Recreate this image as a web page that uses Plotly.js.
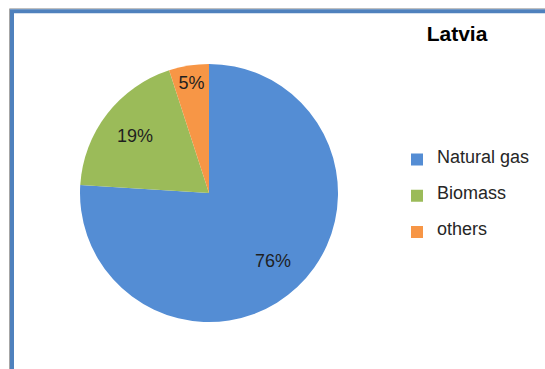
<!DOCTYPE html>
<html>
<head>
<meta charset="utf-8">
<script src="https://cdn.plot.ly/plotly-3.0.1.min.js"></script>
<style>html,body{margin:0;padding:0;background:#fff;}#chart{width:545px;height:369px;}</style>
</head>
<body>
<div id="chart"></div>
<script>
var categories = ['Natural gas', 'Biomass', 'others'];
var shares = [76, 19, 5];
var sliceColors = ['#548DD4', '#9BBB59', '#F79646'];
var chartTitle = 'Latvia';

var W = 545, H = 369;
var cx = 209, cy = 193, r = 129;
var FONT = 'Liberation Sans, Arial, sans-serif';
var pieDomain = { x: [(cx - r) / W, (cx + r) / W], y: [(H - cy - r) / H, (H - cy + r) / H] };

// legend labels padded with blank lines to widen vertical spacing between entries
var legendLabels = categories.map(function (c) {
  return ' <br><span style="font-size:18px">' + c + '</span><br> ';
});

// filled slices (no text)
var basePie = {
  type: 'pie',
  labels: legendLabels,
  values: shares,
  sort: false,
  direction: 'clockwise',
  rotation: 0,
  marker: { colors: sliceColors, line: { width: 0 } },
  textinfo: 'none',
  hoverinfo: 'label+percent',
  domain: pieDomain
};

// transparent ring on top, used only to place the percentage labels further out
var labelPie = {
  type: 'pie',
  labels: legendLabels,
  values: shares,
  sort: false,
  direction: 'clockwise',
  rotation: 0,
  hole: 0.45,
  showlegend: false,
  marker: { colors: ['rgba(0,0,0,0)', 'rgba(0,0,0,0)', 'rgba(0,0,0,0)'], line: { width: 0 } },
  textinfo: 'percent',
  texttemplate: '%{percent:.0%}',
  textposition: 'inside',
  insidetextorientation: 'horizontal',
  textfont: { family: FONT, size: 18, color: '#1f1f1f' },
  hoverinfo: 'skip',
  domain: pieDomain
};

var layout = {
  width: W, height: H,
  margin: { l: 0, r: 0, t: 0, b: 0 },
  paper_bgcolor: '#ffffff',
  showlegend: true,
  title: {
    text: '<b>' + chartTitle + '</b>',
    font: { family: FONT, size: 21, color: '#000000' },
    x: 457 / W, xanchor: 'center', xref: 'paper',
    y: 1 - 34 / H, yanchor: 'middle', yref: 'container'
  },
  legend: {
    x: 397 / W, xanchor: 'left',
    y: (H - 196) / H, yanchor: 'middle',
    font: { family: FONT, size: 8.5, color: '#262626' },
    bgcolor: 'rgba(0,0,0,0)',
    itemwidth: 30
  },
  shapes: [
    { type: 'path', xref: 'paper', yref: 'paper',
      path: 'M' + (9.5 / W) + ',-0.1 L' + (9.5 / W) + ',' + (1 - 8.8 / H) + ' L1.1,' + (1 - 8.8 / H),
      line: { color: '#A6A6A6', width: 1 } },
    { type: 'path', xref: 'paper', yref: 'paper',
      path: 'M' + (12 / W) + ',-0.1 L' + (12 / W) + ',' + (1 - 11.3 / H) + ' L1.1,' + (1 - 11.3 / H),
      line: { color: '#4F81BD', width: 4 } }
  ]
};

Plotly.newPlot('chart', [basePie, labelPie], layout, { displayModeBar: false, staticPlot: true });
</script>
</body>
</html>
